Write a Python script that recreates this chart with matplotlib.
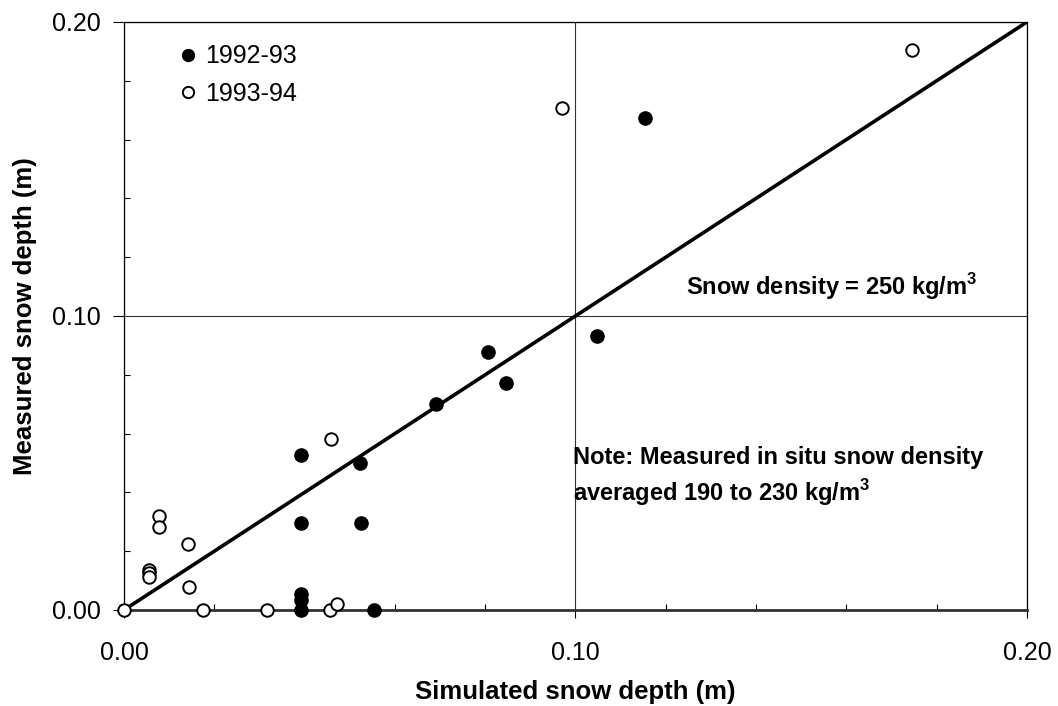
import numpy as np
import matplotlib
matplotlib.use("Agg")
import matplotlib.pyplot as plt

plt.rcParams['font.family'] = ['Liberation Sans', 'DejaVu Sans']
plt.rcParams['mathtext.fontset'] = 'custom'
plt.rcParams['mathtext.rm'] = 'Liberation Sans'
plt.rcParams['mathtext.bf'] = 'Liberation Sans:bold'

# 1992-93 (filled)
sim_9293 = [0.0393, 0.0523, 0.0393, 0.0525, 0.0393, 0.0393, 0.0393, 0.0554,
            0.0691, 0.0806, 0.0846, 0.1048, 0.1154]
meas_9293 = [0.0527, 0.0500, 0.0295, 0.0295, 0.0000, 0.0034, 0.0053, 0.0000,
             0.0701, 0.0878, 0.0772, 0.0932, 0.1673]

# 1993-94 (open)
sim_9394 = [0.0000, 0.0055, 0.0055, 0.0055, 0.0077, 0.0077, 0.0141, 0.0144,
            0.0175, 0.0317, 0.0456, 0.0472, 0.0458, 0.0970, 0.1745]
meas_9394 = [0.0000, 0.0136, 0.0126, 0.0112, 0.0320, 0.0282, 0.0224, 0.0078,
             0.0000, 0.0000, 0.0000, 0.0020, 0.0582, 0.1707, 0.1905]

one_to_one = [0.0, 0.2]
ticks = [0.0, 0.1, 0.2]
tick_labels = ["0.00", "0.10", "0.20"]

fig = plt.figure(figsize=(10.58, 7.06), dpi=100)
ax = fig.add_axes([0.1172, 0.136, 0.8535, 0.8329])

ax.plot(one_to_one, one_to_one, color='black', lw=2.6, zorder=2)
ax.plot(sim_9293, meas_9293, 'o', ms=9.5, mfc='black', mec='black',
        label='1992-93', zorder=3, clip_on=False)
ax.plot(sim_9394, meas_9394, 'o', ms=9.0, mfc='white', mec='black', mew=1.4,
        label='1993-94', zorder=3, clip_on=False)

ax.set_xlim(0, 0.2)
ax.set_ylim(0, 0.2)
ax.set_xticks(ticks)
ax.set_xticklabels(tick_labels)
ax.set_yticks(ticks)
ax.set_yticklabels(tick_labels)
ax.set_xticks(np.arange(0, 0.201, 0.02), minor=True)
ax.set_yticks(np.arange(0, 0.201, 0.02), minor=True)

ax.grid(True, which='major', color='#333333', lw=0.8)
ax.set_axisbelow(True)

ax.tick_params(axis='x', which='major', direction='out', length=6, width=0.8,
               pad=16, labelsize=18)
ax.tick_params(axis='y', which='major', direction='out', length=8, width=0.8,
               pad=9, labelsize=18)
ax.tick_params(which='minor', direction='in', length=4.5, width=0.8)

for s in ['left', 'top', 'right']:
    ax.spines[s].set_linewidth(0.9)
ax.spines['bottom'].set_linewidth(2.0)
ax.spines['bottom'].set_color('#333333')

ax.set_xlabel("Simulated snow depth (m)", fontsize=18.5, fontweight='bold', va='center')
ax.xaxis.set_label_coords(0.5, (610 - 692) / 588)
ax.set_ylabel("Measured snow depth (m)", fontsize=18.5, fontweight='bold', va='center')
ax.yaxis.set_label_coords((25 - 124) / 903, 0.5)

ax.text(0.1889, 0.1099, "Snow density = 250 kg/m$^\\mathbf{3}$", fontsize=17,
        fontweight='bold', ha='right', va='center')
ax.text(0.0994, 0.0517, "Note: Measured in situ snow density", fontsize=17,
        fontweight='bold', ha='left', va='center')
ax.text(0.0994, 0.0398, "averaged 190 to 230 kg/m$^\\mathbf{3}$", fontsize=17,
        fontweight='bold', ha='left', va='center')

ax.legend(loc='upper left', bbox_to_anchor=(0.0515, 0.979), frameon=False,
          fontsize=18, handlelength=0.6, handletextpad=0.38, labelspacing=0.55,
          markerscale=0.9, borderaxespad=0)

fig.savefig("out.png", dpi=100)
